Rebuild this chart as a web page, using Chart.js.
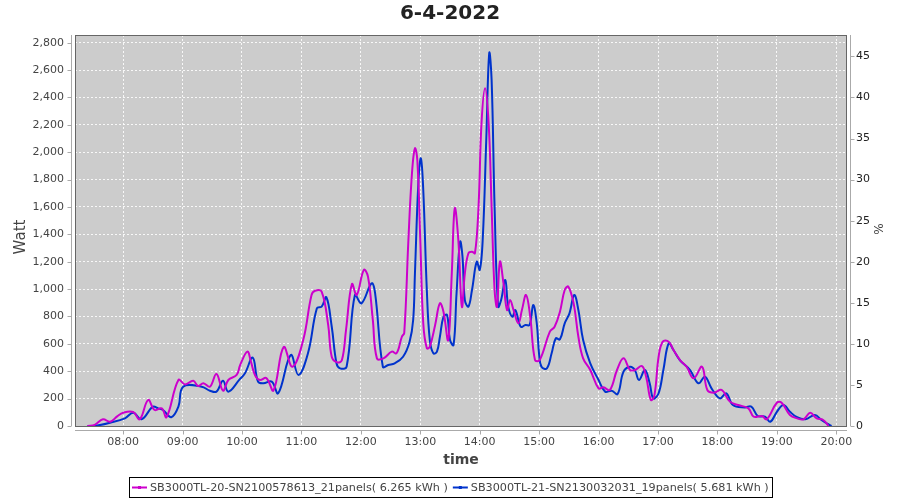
<!DOCTYPE html>
<html>
<head>
<meta charset="utf-8">
<title>6-4-2022</title>
<script src="https://cdn.jsdelivr.net/npm/chart.js@4.4.1/dist/chart.umd.min.js"></script>
<style>
  html, body { margin: 0; padding: 0; background: #fff; }
  #wrap { width: 900px; height: 500px; }
</style>
</head>
<body>
<div id="wrap"><canvas id="powerChart" width="900" height="500"></canvas></div>
<script>
// ---------- Data (hours of day, Watt) ----------
const chartTitle = "6-4-2022";
const seriesNames = [
  "SB3000TL-20-SN2100578613_21panels( 6.265 kWh )",
  "SB3000TL-21-SN2130032031_19panels( 5.681 kWh )"
];
const seriesColors = ["#cc00cc", "#0033cc"];

const timesA = [7.40, 7.52, 7.66, 7.78, 7.90, 8.00, 8.17, 8.28, 8.42, 8.53, 8.65, 8.73, 8.93, 9.04, 9.18, 9.26, 9.35, 9.46, 9.57, 9.68,
  9.77, 9.91, 9.97, 10.09, 10.15, 10.22, 10.30, 10.41, 10.53, 10.70, 10.85, 11.03, 11.17, 11.23, 11.34, 11.45, 11.51, 11.60, 11.68, 11.75,
  11.85, 11.93, 12.05, 12.12, 12.20, 12.27, 12.38, 12.52, 12.60, 12.69, 12.73, 12.80, 12.86, 12.91, 12.95, 13.00, 13.05, 13.11, 13.16, 13.25,
  13.33, 13.39, 13.47, 13.53, 13.58, 13.64, 13.70, 13.75, 13.81, 13.87, 13.92, 13.98, 14.03, 14.09, 14.15, 14.20, 14.25, 14.29, 14.34, 14.40,
  14.46, 14.51, 14.57, 14.65, 14.71, 14.78, 14.85, 14.93, 15.01, 15.18, 15.26, 15.35, 15.43, 15.49, 15.58, 15.66, 15.74, 15.86, 16.00, 16.08,
  16.19, 16.31, 16.42, 16.53, 16.61, 16.73, 16.80, 16.88, 16.94, 17.01, 17.08, 17.18, 17.26, 17.37, 17.48, 17.60, 17.74, 17.83, 17.94, 18.07,
  18.21, 18.35, 18.52, 18.61, 18.75, 18.83, 19.00, 19.08, 19.22, 19.34, 19.45, 19.56, 19.67, 19.78, 19.87];
const wattsA = [0, 8, 49, 31, 70, 97, 102, 49, 190, 117, 129, 64, 336, 304, 331, 292, 312, 287, 380, 258,
  336, 373, 446, 543, 470, 370, 336, 350, 260, 577, 433, 628, 957, 988, 981, 738, 506, 465, 480, 701,
  1037, 957, 1140, 1091, 780, 494, 494, 543, 531, 652, 680, 1359, 1846, 2028, 1943, 1359, 750, 568, 579, 738,
  896, 835, 628, 1115, 1590, 1359, 872, 1115, 1262, 1273, 1262, 1602, 2211, 2467, 2211, 1602, 993, 872, 1200, 1042,
  847, 920, 847, 750, 847, 957, 798, 482, 482, 689, 725, 835, 993, 1018, 896, 652, 494, 409, 275, 283,
  263, 409, 494, 409, 409, 438, 360, 190, 226, 506, 616, 616, 555, 482, 433, 348, 433, 263, 243, 263,
  178, 153, 129, 68, 73, 49, 170, 170, 80, 56, 49, 97, 56, 44, 0];

const timesB = [7.40, 7.52, 7.78, 8.03, 8.17, 8.31, 8.50, 8.59, 8.67, 8.81, 8.93, 9.01, 9.32, 9.46, 9.57, 9.68, 9.77, 9.96, 10.05, 10.18,
  10.27, 10.36, 10.50, 10.61, 10.82, 10.95, 11.11, 11.26, 11.34, 11.42, 11.51, 11.59, 11.65, 11.76, 11.90, 12.01, 12.18, 12.24, 12.37, 12.46,
  12.57, 12.71, 12.82, 12.88, 12.91, 12.97, 13.01, 13.05, 13.11, 13.16, 13.22, 13.28, 13.33, 13.39, 13.45, 13.50, 13.56, 13.61, 13.67, 13.71,
  13.75, 13.81, 13.87, 13.95, 14.00, 14.05, 14.11, 14.16, 14.20, 14.25, 14.31, 14.36, 14.43, 14.48, 14.55, 14.60, 14.69, 14.77, 14.84, 14.90,
  14.96, 15.00, 15.04, 15.13, 15.21, 15.28, 15.35, 15.43, 15.51, 15.59, 15.66, 15.74, 15.86, 16.00, 16.11, 16.22, 16.32, 16.42, 16.53, 16.61,
  16.68, 16.78, 16.86, 16.92, 17.01, 17.09, 17.18, 17.26, 17.37, 17.54, 17.68, 17.79, 17.90, 18.04, 18.15, 18.26, 18.46, 18.57, 18.68, 18.80,
  18.89, 19.00, 19.11, 19.22, 19.34, 19.48, 19.64, 19.75, 19.89, 19.92];
const wattsB = [0, 0, 24, 56, 97, 49, 141, 129, 117, 64, 141, 287, 287, 258, 251, 331, 251, 340, 385, 500,
  324, 312, 324, 239, 519, 373, 531, 860, 872, 940, 725, 458, 421, 433, 957, 896, 1042, 969, 433, 446,
  458, 506, 616, 774, 1115, 1797, 1955, 1724, 993, 628, 531, 543, 652, 798, 811, 628, 592, 969, 1346, 1237,
  920, 872, 993, 1200, 1140, 1359, 2089, 2723, 2528, 1602, 872, 920, 1066, 872, 798, 847, 725, 738, 738, 884,
  750, 519, 433, 421, 531, 640, 633, 750, 823, 957, 847, 628, 458, 336, 251, 258, 234, 397, 433, 409,
  336, 409, 312, 202, 239, 409, 604, 555, 480, 409, 312, 360, 275, 202, 239, 153, 136, 141, 73, 68,
  31, 104, 153, 104, 64, 49, 80, 44, 7, 0];

const hourTicks = [8, 9, 10, 11, 12, 13, 14, 15, 16, 17, 18, 19, 20];
const wattTicks = [0, 200, 400, 600, 800, 1000, 1200, 1400, 1600, 1800, 2000, 2200, 2400, 2600, 2800];
const pctTicks = [0, 5, 10, 15, 20, 25, 30, 35, 40, 45];

const FONT = "'DejaVu Sans', sans-serif";
const LABEL = "#444444";
const AXIS = "#aaaaaa";
const GRID = "rgba(255,255,255,0.85)";

function toPoints(xs, ys) {
  return xs.map((x, i) => ({ x: x, y: ys[i] }));
}

function fixTicks(values) {
  return scale => { scale.ticks = values.map(v => ({ value: v })); };
}

// ---------- plot frame, axis lines, titles, legend ----------
const framePlugin = {
  id: "framePlugin",
  beforeDraw(chart) {
    const { ctx, chartArea: a } = chart;
    ctx.save();
    ctx.fillStyle = "#cccccc";
    ctx.fillRect(a.left, a.top, a.right - a.left, a.bottom - a.top);
    ctx.restore();
  },
  afterDatasetsDraw(chart) {
    const { ctx, chartArea: a } = chart;
    ctx.save();
    ctx.strokeStyle = "#666666";
    ctx.lineWidth = 1;
    ctx.strokeRect(a.left + 0.5, a.top + 0.5, a.right - a.left - 1, a.bottom - a.top);
    ctx.restore();
  },
  afterDraw(chart) {
    const { ctx, chartArea: a, scales } = chart;
    ctx.save();
    ctx.strokeStyle = AXIS;
    ctx.lineWidth = 1;
    ctx.beginPath();
    // left axis
    const lx = a.left - 3.5;
    ctx.moveTo(lx, a.top); ctx.lineTo(lx, a.bottom);
    wattTicks.forEach(v => {
      const y = Math.round(scales.y.getPixelForValue(v)) + 0.5;
      ctx.moveTo(lx - 4, y); ctx.lineTo(lx, y);
    });
    // right axis
    const rx = a.right + 3.5;
    ctx.moveTo(rx, a.top); ctx.lineTo(rx, a.bottom);
    pctTicks.forEach(v => {
      const y = Math.round(scales.y1.getPixelForValue(v)) + 0.5;
      ctx.moveTo(rx, y); ctx.lineTo(rx + 4, y);
    });
    // bottom axis
    const by = a.bottom + 4.5;
    ctx.moveTo(a.left, by); ctx.lineTo(a.right, by);
    hourTicks.forEach(v => {
      const x = Math.round(scales.x.getPixelForValue(v)) + 0.5;
      ctx.moveTo(x, by); ctx.lineTo(x, by + 4);
    });
    ctx.stroke();

    // titles
    ctx.fillStyle = "#222222";
    ctx.textAlign = "center";
    ctx.textBaseline = "middle";
    ctx.font = "bold 20px " + FONT;
    ctx.fillText(chartTitle, 450, 14);
    ctx.fillStyle = "#444444";
    ctx.font = "bold 14px " + FONT;
    ctx.fillText("time", 461, 460);
    ctx.font = "15px " + FONT;
    ctx.save();
    ctx.translate(21, 237);
    ctx.rotate(-Math.PI / 2);
    ctx.fillText("Watt", 0, 0);
    ctx.restore();
    ctx.font = "12px " + FONT;
    ctx.save();
    ctx.translate(880, 229);
    ctx.rotate(-Math.PI / 2);
    ctx.fillText("%", 0, 0);
    ctx.restore();

    // legend
    ctx.font = "11.2px " + FONT;
    const seg = 15, gap = 3, between = 5, pad = 3;
    const widths = seriesNames.map(t => ctx.measureText(t).width);
    const total = pad * 2 + widths.reduce((s, w) => s + seg + gap + w, 0) + between;
    let x = Math.round(450.5 - total / 2);
    const top = 477, h = 20, cy = top + h / 2;
    ctx.strokeStyle = "#000000";
    ctx.lineWidth = 1;
    ctx.strokeRect(x + 0.5, top + 0.5, Math.round(total), h);
    x += pad;
    ctx.textAlign = "left";
    seriesNames.forEach((t, i) => {
      ctx.strokeStyle = seriesColors[i];
      ctx.fillStyle = seriesColors[i];
      ctx.lineWidth = 2;
      ctx.beginPath();
      ctx.moveTo(x, cy + 0.5); ctx.lineTo(x + seg, cy + 0.5);
      ctx.stroke();
      ctx.fillRect(x + seg / 2 - 1.5, cy - 1, 3, 3);
      x += seg + gap;
      ctx.fillStyle = "#444444";
      ctx.fillText(t, x, cy + 1);
      x += widths[i] + between;
    });
    ctx.restore();
  }
};

new Chart(document.getElementById("powerChart"), {
  type: "line",
  data: {
    datasets: [
      {
        label: seriesNames[0],
        data: toPoints(timesA, wattsA),
        borderColor: seriesColors[0],
        backgroundColor: seriesColors[0],
        borderWidth: 2,
        pointRadius: 0,
        tension: 0.4,
        yAxisID: "y"
      },
      {
        label: seriesNames[1],
        data: toPoints(timesB, wattsB),
        borderColor: seriesColors[1],
        backgroundColor: seriesColors[1],
        borderWidth: 2,
        pointRadius: 0,
        tension: 0.4,
        yAxisID: "y"
      }
    ]
  },
  options: {
    responsive: false,
    animation: false,
    layout: { padding: { top: 35, left: 0, right: 0, bottom: 0 } },
    plugins: {
      legend: { display: false },
      title: { display: false },
      tooltip: { enabled: false }
    },
    scales: {
      x: {
        type: "linear",
        min: 7.19,
        max: 20.18,
        afterBuildTicks: fixTicks(hourTicks),
        afterFit: s => { s.height = 74; },
        border: { display: false, dash: [2, 2] },
        grid: { color: GRID, drawTicks: false },
        ticks: {
          padding: 10,
          color: LABEL,
          font: { family: FONT, size: 11 },
          maxRotation: 0,
          callback: v => String(v).padStart(2, "0") + ":00"
        }
      },
      y: {
        position: "left",
        min: 0,
        max: 2856,
        afterBuildTicks: fixTicks(wattTicks),
        afterFit: s => { s.width = 75; },
        border: { display: false, dash: [2, 2] },
        grid: { color: GRID, drawTicks: false },
        ticks: {
          padding: 11,
          color: LABEL,
          font: { family: FONT, size: 11 },
          callback: v => v.toLocaleString("en-US")
        }
      },
      y1: {
        position: "right",
        min: 0,
        max: 47.6,
        afterBuildTicks: fixTicks(pctTicks),
        afterFit: s => { s.width = 53; },
        border: { display: false },
        grid: { display: false, drawTicks: false },
        ticks: {
          padding: 9,
          color: "#222222",
          font: { family: FONT, size: 11 }
        }
      }
    }
  },
  plugins: [framePlugin]
});
</script>
</body>
</html>
